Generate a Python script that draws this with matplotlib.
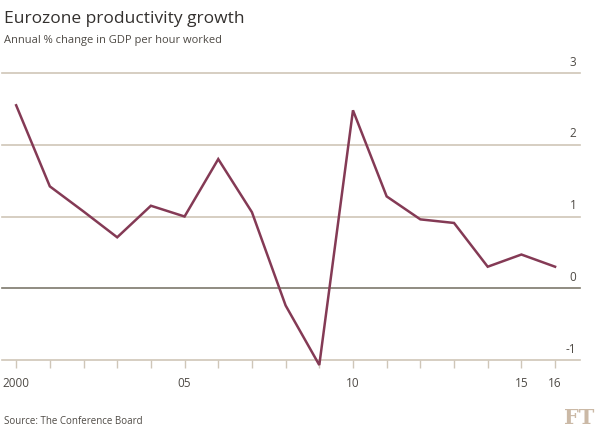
import matplotlib
matplotlib.use("Agg")
import matplotlib.pyplot as plt
import matplotlib.transforms as mtransforms

# data
years = list(range(2000, 2017))
growth = [2.55, 1.42, 1.07, 0.71, 1.15, 1.0, 1.80, 1.06, -0.24, -1.07,
          2.48, 1.28, 0.96, 0.91, 0.30, 0.47, 0.30]
yticks = [-1, 0, 1, 2, 3]
xlabels = {2000: "2000", 2005: "05", 2010: "10", 2015: "15", 2016: "16"}

plt.rcParams['font.family'] = ['Open Sans', 'DejaVu Sans']

W, H = 600, 437
fig = plt.figure(figsize=(W / 100, H / 100), dpi=100)
fig.patch.set_facecolor("white")

# axes box in pixel terms
left, right, top, bottom = 2, 580, 73, 360
ax = fig.add_axes([left / W, 1 - bottom / H, (right - left) / W, (bottom - top) / H])
ax.set_xlim(1999.58, 2016.74)
ax.set_ylim(-1, 3)
for s in ax.spines.values():
    s.set_visible(False)

for v in yticks:
    col = "#7d786c" if v == 0 else "#cfc6b8"
    ax.axhline(v, color=col, lw=1.2, zorder=1, clip_on=False)
    ax.text(0.994, v + 0.06, str(v).replace("-", "-"), transform=mtransforms.blended_transform_factory(ax.transAxes, ax.transData),
            ha="right", va="bottom", fontsize=8.5, color="#4e4a45")

ax.plot(years, growth, color="#843a55", lw=1.8, zorder=3, clip_on=False,
        solid_joinstyle="miter")

ax.set_yticks([])
ax.set_xticks(years)
ax.set_xticklabels([xlabels.get(y, "") for y in years])
ax.tick_params(axis="x", length=6, width=1, color="#cfc6b8", pad=6,
               labelsize=8.5, labelcolor="#4e4a45")

fig.text(4 / W, 1 - 19 / H, "Eurozone productivity growth", fontsize=12.5,
         color="#33302e", va="center", ha="left")
fig.text(4 / W, 1 - 40 / H, "Annual % change in GDP per hour worked", fontsize=8,
         color="#4e4a45", va="center", ha="left")
fig.text(4 / W, 1 - 422 / H, "Source: The Conference Board", fontsize=7,
         color="#4e4a45", va="center", ha="left")
fig.text(594 / W, 1 - 418 / H, "FT", fontsize=15, family="DejaVu Serif",
         color="#cbb9a6", va="center", ha="right", weight="bold")

fig.savefig("out.png", dpi=100, facecolor="white")
